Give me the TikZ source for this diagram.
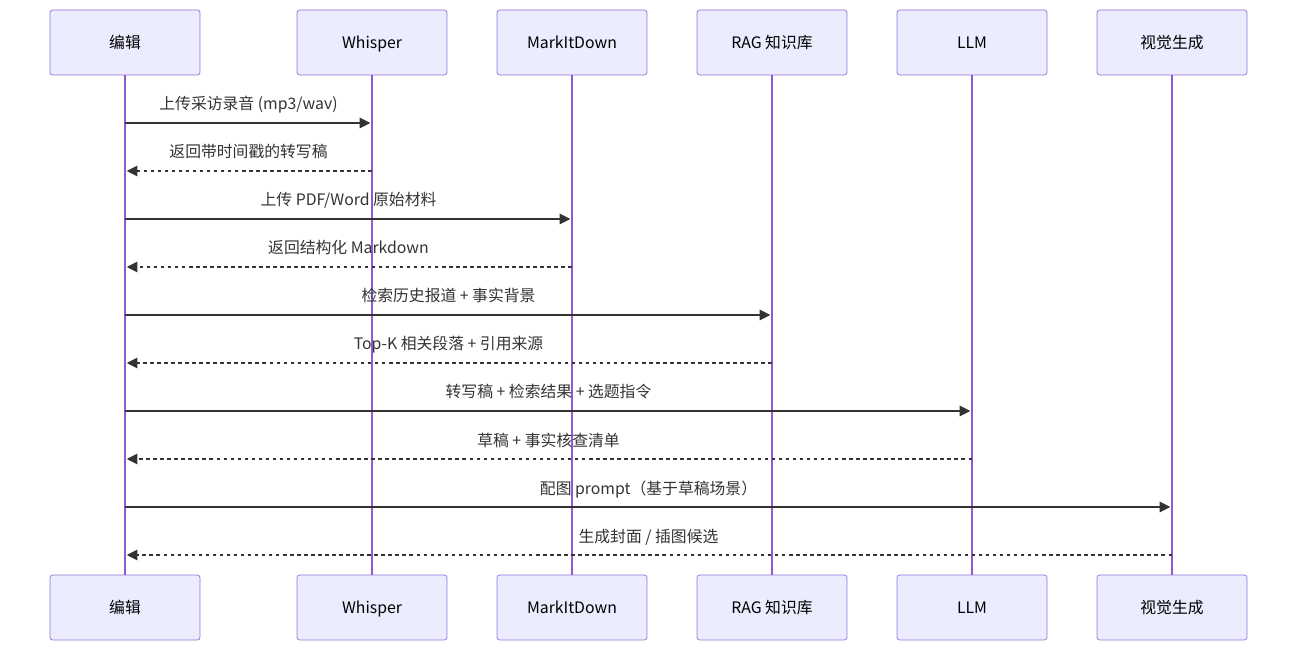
\documentclass[tikz,border=0pt]{standalone}
\usepackage{fontspec}
\setmainfont{Noto Sans CJK SC}
\usetikzlibrary{arrows.meta,calc}
\definecolor{actfill}{HTML}{ECECFF}
\definecolor{actline}{HTML}{9370DB}
\definecolor{lifeline}{HTML}{8A5CD6}
\definecolor{msgline}{HTML}{333333}
\begin{document}
\begin{tikzpicture}[x=0.02cm,y=-0.02cm,
        actor/.style={draw=actline,fill=actfill,rounded corners=1.5pt,minimum width=3cm,minimum height=1.3cm,inner sep=0pt,text height=1.6ex,text depth=0.4ex,font=\fontsize{9}{10}\selectfont,text=black},
        life/.style={draw=lifeline,line width=0.7pt},
        call/.style={draw=msgline,line width=0.6pt,-{Triangle[length=6pt,width=6pt]},shorten >=1pt},
        reply/.style={call,dash pattern=on 2pt off 2pt},
        msg/.style={font=\fontsize{9}{10}\selectfont,text=msgline,inner sep=0pt,anchor=base}]
        \useasboundingbox (0,0) rectangle (1297,651);
        % Participants, top and bottom
        \foreach \i/\x/\t in {1/125/编辑,2/372/Whisper,3/572/MarkItDown,4/772/RAG 知识库,5/972/LLM,6/1172/视觉生成}{
            \node[actor] (t\i) at (\x,42.5) {\t};
            \node[actor] (b\i) at (\x,607.5) {\t};
            \draw[life] (t\i) -- (b\i);
        }
        % Messages
        \foreach \n/\a/\b/\y/\s/\t in {
            1/1/2/123/call/{上传采访录音 (mp3/wav)},
            2/2/1/171/reply/{返回带时间戳的转写稿},
            3/1/3/219/call/{上传 PDF/Word 原始材料},
            4/3/1/267/reply/{返回结构化 Markdown},
            5/1/4/315/call/{检索历史报道 + 事实背景},
            6/4/1/363/reply/{Top-K 相关段落 + 引用来源},
            7/1/5/411/call/{转写稿 + 检索结果 + 选题指令},
            8/5/1/459/reply/{草稿 + 事实核查清单},
            9/1/6/507/call/{配图 prompt（基于草稿场景）},
            10/6/1/555/reply/{生成封面 / 插图候选}}{
            \coordinate (s\n) at (t\a |- 0,\y);
            \coordinate (e\n) at (t\b |- 0,\y);
            \draw[\s] (s\n) -- (e\n);
            \node[msg] (l\n) at ($(s\n)!0.5!(e\n)+(0,-13)$) {\t};
        }
\end{tikzpicture}
\end{document}
